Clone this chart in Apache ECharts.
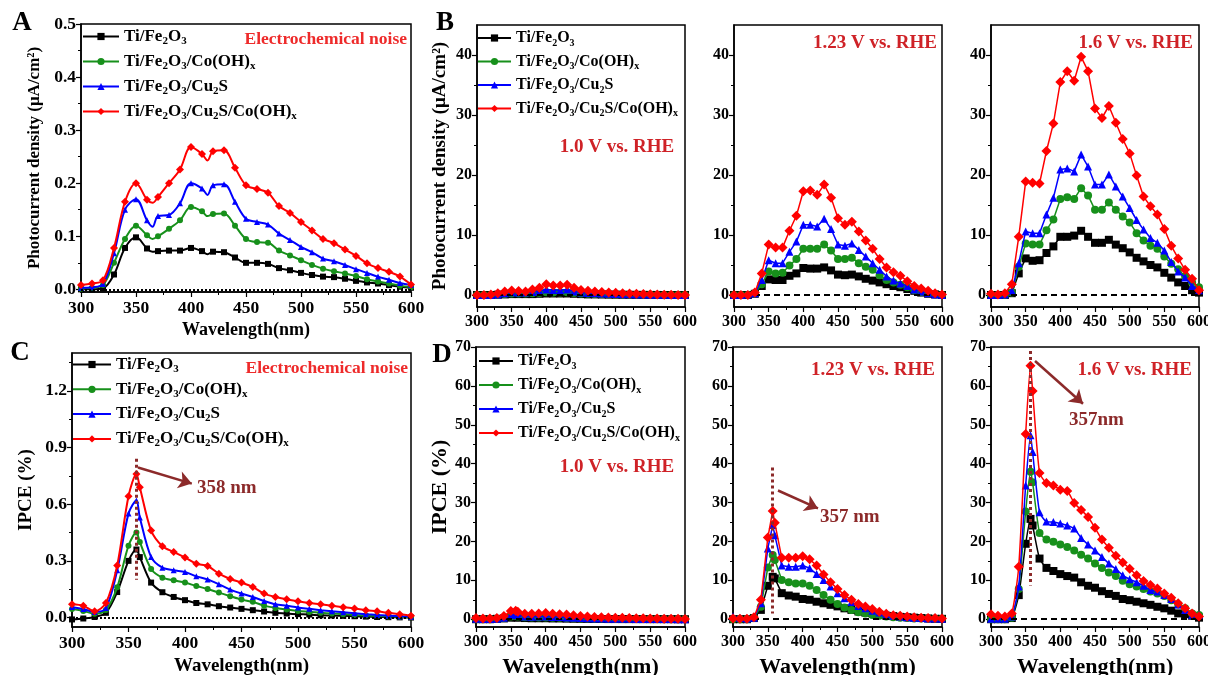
<!DOCTYPE html>
<html lang="en">
<head>
<meta charset="UTF-8">
<title>Photocurrent and IPCE spectra</title>
<script src="https://cdn.jsdelivr.net/npm/echarts@6/dist/echarts.min.js"></script>
<style>body{margin:0;background:#fff}</style>
</head>
<body>
<div id="main" style="width:1208px;height:675px;"></div>
<script type="text/javascript">
// sample names (legend order)
const names = ['Ti/Fe2O3', 'Ti/Fe2O3/Co(OH)x', 'Ti/Fe2O3/Cu2S', 'Ti/Fe2O3/Cu2S/Co(OH)x'];

// wavelengths (nm)
const wl = [300,310,320,330,340,350,360,370,380,390,400,410,420,430,440,450,460,470,480,490,500,510,520,530,540,550,560,570,580,590,600];
const wlA = [300,310,320,330,340,350,360,365,370,380,390,400,410,415,420,430,440,450,460,470,480,490,500,510,520,530,540,550,560,570,580,590,600];
const wlPeak = [300,310,320,330,340,350,357,360,370,380,390,400,410,420,430,440,450,460,470,480,490,500,510,520,530,540,550,560,570,580,590,600];

// A: electrochemical noise photocurrent (uA/cm2)
const A_fe = [0,0,0.002,0.028,0.078,0.098,0.077,0.071,0.072,0.073,0.073,0.078,0.072,0.066,0.071,0.070,0.060,0.050,0.050,0.048,0.040,0.036,0.031,0.027,0.024,0.023,0.020,0.016,0.013,0.011,0.008,0.005,0.003];
const A_co = [0.001,0.003,0.008,0.050,0.095,0.120,0.102,0.095,0.100,0.114,0.130,0.155,0.147,0.138,0.142,0.143,0.120,0.095,0.089,0.088,0.073,0.064,0.055,0.046,0.039,0.034,0.030,0.025,0.019,0.015,0.011,0.007,0.004];
const A_cu = [0.003,0.004,0.010,0.068,0.150,0.170,0.130,0.118,0.138,0.140,0.162,0.200,0.190,0.178,0.196,0.198,0.165,0.133,0.127,0.122,0.105,0.093,0.080,0.070,0.058,0.053,0.046,0.038,0.031,0.024,0.018,0.012,0.008];
const A_all = [0.008,0.011,0.017,0.078,0.165,0.200,0.169,0.163,0.174,0.200,0.226,0.268,0.255,0.243,0.260,0.262,0.229,0.196,0.189,0.182,0.157,0.144,0.127,0.111,0.095,0.087,0.075,0.063,0.049,0.040,0.033,0.024,0.009];

// B: photocurrent at 1.0 / 1.23 / 1.6 V vs RHE
const B1_fe = [0,0,0,0.05,0.1,0.15,0.15,0.15,0.15,0.2,0.25,0.25,0.25,0.25,0.2,0.15,0.1,0.1,0.08,0.06,0.05,0.04,0.03,0.02,0.02,0.01,0.01,0,0,0,0];
const B1_co = [0,0,0,0.05,0.15,0.25,0.25,0.25,0.3,0.35,0.45,0.4,0.4,0.45,0.35,0.25,0.2,0.18,0.15,0.12,0.1,0.08,0.06,0.05,0.04,0.03,0.02,0.01,0.01,0,0];
const B1_cu = [0,0,0.02,0.1,0.3,0.45,0.4,0.4,0.5,0.65,0.9,0.85,0.8,0.9,0.6,0.4,0.35,0.3,0.25,0.2,0.17,0.14,0.11,0.09,0.07,0.05,0.04,0.03,0.02,0.01,0];
const B1_all = [0,0,0.1,0.3,0.6,0.75,0.65,0.6,0.9,1.2,1.8,1.6,1.6,1.7,1.2,0.85,0.7,0.6,0.5,0.42,0.36,0.3,0.25,0.2,0.16,0.12,0.09,0.06,0.04,0.02,0];

const B2_fe = [0,0,0,0.2,1.5,2.6,2.5,2.5,3.2,3.6,4.5,4.4,4.4,4.6,4.1,3.4,3.3,3.4,3.1,2.7,2.4,2.1,1.8,1.5,1.3,1.0,0.7,0.4,0.2,0.1,0];
const B2_co = [0,0,0,0.3,1.8,3.9,3.6,3.7,4.9,6.0,7.7,7.7,7.7,8.4,7.4,6.0,6.0,6.2,5.3,4.7,4.2,3.3,2.5,2.1,1.7,1.3,0.8,0.5,0.3,0.1,0];
const B2_cu = [0,0,0.1,0.3,2.5,5.8,5.3,5.3,7.2,8.9,11.7,11.7,11.4,12.7,11.0,8.4,8.2,8.6,7.5,6.4,5.3,4.2,3.1,2.4,1.9,1.5,0.9,0.6,0.3,0.1,0];
const B2_all = [0,0,0,0.4,3.6,8.4,7.9,7.9,10.7,13.2,17.3,17.4,16.7,18.4,16.2,12.8,11.7,12.2,10.6,9.1,7.7,6.0,4.6,3.8,3.2,2.3,1.5,1.1,0.7,0.3,0.1];

const B3_fe = [0,0,0,0.3,3.6,6.1,5.7,5.8,7.0,8.1,9.7,9.7,9.9,10.7,9.7,8.7,8.7,9.2,8.4,7.8,7.1,6.2,5.6,5.0,4.6,3.7,2.9,2.1,1.5,0.8,0.4];
const B3_co = [0,0,0,0.4,4.7,8.6,8.4,8.4,10.8,12.6,16.0,16.3,16.0,17.8,16.6,14.2,14.2,15.4,14.2,13.1,12.1,10.3,9.1,8.2,7.7,6.4,5.2,4.3,3.1,2.1,1.3];
const B3_cu = [0,0,0.1,0.7,5.3,10.6,10.3,10.3,13.4,16.2,20.9,21.1,20.6,23.4,21.4,18.4,18.4,20.1,18.1,16.4,14.5,12.5,10.9,9.5,8.7,7.4,5.5,3.9,2.9,1.5,0.8];
const B3_all = [0.2,0.1,0.3,1.8,9.7,18.9,18.7,18.6,24.0,28.6,35.5,37.3,35.7,39.7,37.3,31.1,29.5,31.5,28.7,26.0,23.6,19.9,16.4,14.8,13.4,11.0,8.2,6.1,4.2,2.7,0.8];

// C: electrochemical noise IPCE (%)
const C_fe = [-0.01,-0.005,0.003,0.025,0.135,0.30,0.36,0.32,0.185,0.134,0.109,0.092,0.077,0.070,0.060,0.053,0.046,0.039,0.032,0.025,0.021,0.018,0.016,0.012,0.011,0.009,0.007,0.005,0.003,0.002,0.001,0];
const C_co = [0.045,0.035,0.020,0.040,0.160,0.380,0.450,0.400,0.257,0.211,0.197,0.185,0.167,0.151,0.132,0.113,0.095,0.083,0.063,0.051,0.042,0.035,0.030,0.025,0.021,0.018,0.014,0.011,0.009,0.006,0.004,0.002];
const C_cu = [0.056,0.045,0.030,0.050,0.250,0.550,0.620,0.530,0.320,0.264,0.250,0.241,0.218,0.202,0.176,0.148,0.127,0.109,0.088,0.070,0.062,0.053,0.046,0.039,0.033,0.028,0.023,0.018,0.014,0.009,0.007,0.004];
const C_all = [0.070,0.062,0.033,0.077,0.276,0.642,0.760,0.690,0.461,0.377,0.347,0.318,0.285,0.273,0.232,0.204,0.185,0.162,0.127,0.109,0.097,0.086,0.077,0.070,0.062,0.055,0.048,0.039,0.033,0.025,0.018,0.010];

// D: IPCE at 1.0 / 1.23 / 1.6 V vs RHE
const D1_fe = [0,0,0,0.1,0.2,0.4,0.5,0.4,0.3,0.25,0.25,0.25,0.2,0.2,0.15,0.12,0.1,0.08,0.06,0.05,0.04,0.04,0.03,0.03,0.02,0.02,0.01,0.01,0.01,0,0,0];
const D1_co = [0,0,0,0.1,0.3,0.7,0.8,0.7,0.5,0.45,0.45,0.45,0.4,0.35,0.3,0.25,0.2,0.17,0.14,0.12,0.1,0.08,0.07,0.06,0.05,0.04,0.03,0.03,0.02,0.02,0.01,0.01];
const D1_cu = [0.1,0.05,0.05,0.15,0.4,1.1,1.2,1.0,0.7,0.65,0.7,0.7,0.6,0.55,0.45,0.38,0.3,0.25,0.2,0.17,0.15,0.13,0.11,0.09,0.08,0.07,0.06,0.05,0.04,0.03,0.02,0.02];
const D1_all = [0.3,0.2,0.2,0.3,0.8,2.1,2.2,1.9,1.4,1.4,1.5,1.6,1.4,1.3,1.2,1.0,0.8,0.7,0.6,0.5,0.45,0.4,0.35,0.3,0.28,0.25,0.2,0.18,0.15,0.12,0.1,0.08];

const D2_fe = [0,0,0,0.3,2.4,8.6,10.9,10.5,6.7,6.1,5.8,5.2,5.0,4.5,4.1,3.7,3.3,2.8,2.4,2.0,1.7,1.5,1.2,0.9,0.8,0.6,0.5,0.4,0.3,0.2,0.1,0.1];
const D2_co = [0,0,0,0.4,3.2,13.3,16.5,15.2,10.1,9.5,9.2,9.2,8.6,7.5,6.2,5.0,3.9,3.0,2.4,1.8,1.5,1.1,0.9,0.7,0.5,0.4,0.3,0.2,0.2,0.1,0.1,0.1];
const D2_cu = [0.7,0.3,0.2,0.4,4.1,18.2,24.2,21.6,13.8,13.5,13.5,13.8,13.1,11.6,10.1,8.4,6.7,5.4,4.4,3.4,2.8,2.2,1.7,1.3,0.9,0.7,0.5,0.4,0.3,0.2,0.2,0.1];
const D2_all = [0.2,0.1,0.1,0.5,5.0,21.0,27.8,24.8,15.8,15.8,15.8,16.2,15.4,13.8,11.5,9.5,7.8,6.2,5.0,3.9,3.3,2.6,1.9,1.4,1.0,0.9,0.7,0.5,0.4,0.3,0.3,0.2];

const D3_fe = [0,0,0,0.3,6.2,19.4,25.8,24.1,15.6,13.2,12.4,11.6,11.1,10.7,9.5,8.6,8.1,7.2,6.5,6.0,5.2,4.9,4.5,4.1,3.7,3.2,2.8,2.2,1.5,1.3,0.9,0.4];
const D3_co = [0,0,0,0.4,7.8,27.7,37.9,35.2,22.2,20.5,19.9,19.2,18.6,17.7,16.6,15.6,14.3,13.2,12.0,11.1,9.9,9.0,8.4,7.8,7.1,6.6,6.0,4.9,3.8,2.8,1.5,1.1];
const D3_cu = [0.1,0.1,0.1,0.7,8.4,34.4,47.3,43.0,27.5,25.1,25.0,24.6,24.1,23.3,20.9,19.2,17.7,16.0,14.3,12.9,11.3,10.3,9.5,8.6,7.5,7.1,6.2,5.2,3.8,2.4,1.1,1.1];
const D3_all = [1.3,0.9,0.7,1.5,13.5,47.6,65.2,58.7,37.6,35.0,34.4,33.3,33.0,29.9,28.1,26.3,23.5,20.5,18.4,16.3,14.6,13.0,11.3,9.8,8.8,7.9,6.6,5.5,4.1,2.8,1.5,0.7];

// tick labels (major) and minor tick positions
const yTicksA = [0,0.1,0.2,0.3,0.4,0.5];
const yMinorA = [0.05,0.15,0.25,0.35,0.45];
const yTicksB = [0,10,20,30,40];
const yMinorB = [5,15,25,35];
const yTicksC = [0,0.3,0.6,0.9,1.2];
const yMinorC = [0.15,0.45,0.75,1.05,1.35];
const yTicksD = [0,10,20,30,40,50,60,70];
const yMinorD = [5,15,25,35,45,55,65];

const colors = ['#000000', '#17901b', '#0000ff', '#ff0000'];
const symbols = ['rect', 'circle', 'triangle', 'diamond'];
const FONT = 'Liberation Serif';
const peakColor = '#8c2a2a';

const panels = [
  { grid: {left: 81, top: 24, width: 330, height: 268}, x: wlA, ys: [A_fe, A_co, A_cu, A_all],
    ymin: -0.005, ymax: 0.5, yticks: yTicksA, yminor: yMinorA, dec: 1, smooth: 0.35, size: 6, lw: 2, zero: 'dotted',
    lab: 17.5, xname: 'Wavelength(nm)', xnameSize: 18, xgap: 29, yname: 'Photocurrent density (\u03bcA/cm\u00b2)', ynameSize: 17, ygap: 38 },
  { grid: {left: 477, top: 25, width: 208, height: 282}, x: wl, ys: [B1_fe, B1_co, B1_cu, B1_all],
    ymin: -2, ymax: 45, yticks: yTicksB, yminor: yMinorB, dec: 0, smooth: false, size: 8, lw: 1.5, zero: 'dashed',
    lab: 16, yname: 'Photocurrent density (\u03bcA/cm\u00b2)', ynameSize: 19, ygap: 27 },
  { grid: {left: 734, top: 25, width: 208, height: 282}, x: wl, ys: [B2_fe, B2_co, B2_cu, B2_all],
    ymin: -2, ymax: 45, yticks: yTicksB, yminor: yMinorB, dec: 0, smooth: false, size: 8, lw: 1.5, zero: 'dashed', lab: 16 },
  { grid: {left: 991, top: 25, width: 208, height: 282}, x: wl, ys: [B3_fe, B3_co, B3_cu, B3_all],
    ymin: -2, ymax: 45, yticks: yTicksB, yminor: yMinorB, dec: 0, smooth: false, size: 8, lw: 1.5, zero: 'dashed', lab: 16 },
  { grid: {left: 72, top: 353, width: 339, height: 274}, x: wlPeak, ys: [C_fe, C_co, C_cu, C_all],
    ymin: -0.05, ymax: 1.4, yticks: yTicksC, yminor: yMinorC, dec: 1, smooth: 0.3, size: 6, lw: 2, zero: 'dotted',
    lab: 17.5, xname: 'Wavelength(nm)', xnameSize: 19, xgap: 30, yname: 'IPCE (%)', ynameSize: 19, ygap: 36,
    peak: {x: 357, y0: 0.84, y1: 0.2, a0: [358.4, 0.794], a1: [406, 0.709]} },
  { grid: {left: 476, top: 347, width: 209, height: 280}, x: wlPeak, ys: [D1_fe, D1_co, D1_cu, D1_all],
    ymin: -2, ymax: 70, yticks: yTicksD, yminor: yMinorD, dec: 0, smooth: false, size: 8, lw: 1.5, zero: 'dashed',
    lab: 16, xname: 'Wavelength(nm)', xnameSize: 22, xgap: 29, yname: 'IPCE (%)', ynameSize: 22, ygap: 24 },
  { grid: {left: 733, top: 347, width: 209, height: 280}, x: wlPeak, ys: [D2_fe, D2_co, D2_cu, D2_all],
    ymin: -2, ymax: 70, yticks: yTicksD, yminor: yMinorD, dec: 0, smooth: false, size: 8, lw: 1.5, zero: 'dashed',
    lab: 16, xname: 'Wavelength(nm)', xnameSize: 22, xgap: 29,
    peak: {x: 357, y0: 39, y1: 1.5, a0: [364.6, 33.1], a1: [422, 28.5]} },
  { grid: {left: 991, top: 347, width: 208, height: 280}, x: wlPeak, ys: [D3_fe, D3_co, D3_cu, D3_all],
    ymin: -2, ymax: 70, yticks: yTicksD, yminor: yMinorD, dec: 0, smooth: 0.2, size: 8, lw: 1.5, zero: 'dashed',
    lab: 16, xname: 'Wavelength(nm)', xnameSize: 22, xgap: 29,
    peak: {x: 357, y0: 69, y1: 8.7, a0: [363.5, 66.4], a1: [432.7, 55.4]} }
];

// Ti/Fe2O3 -> rich text with subscripts
function richName(n) {
  return n.split(/(\d|x$)/).filter(Boolean)
    .map(t => /^(\d|x)$/.test(t) ? '{s|' + t + '}' : '{a|' + t + '}').join('');
}
function legendRich(size) {
  return {
    a: {fontFamily: FONT, fontWeight: 'bold', fontSize: size, color: '#000', lineHeight: 20},
    s: {fontFamily: FONT, fontWeight: 'bold', fontSize: Math.round(size * 0.65), color: '#000', lineHeight: 10, verticalAlign: 'bottom'}
  };
}

const axisBlack = {color: '#000', width: 1.5};
const grids = [], xAxes = [], yAxes = [], series = [];
panels.forEach((p, i) => {
  grids.push(Object.assign({show: true, borderColor: '#000', borderWidth: 1.5, backgroundColor: 'transparent',
    containLabel: false, outerBoundsMode: 'none'}, p.grid));
  xAxes.push({
    type: 'value', gridIndex: i, min: 300, max: 600, interval: 50,
    name: p.xname || '', nameLocation: 'middle', nameGap: p.xgap || 0,
    nameTextStyle: {fontFamily: FONT, fontWeight: 'bold', fontSize: p.xnameSize || 12, color: '#000'},
    axisLine: {show: true, onZero: false, lineStyle: axisBlack},
    axisTick: {show: true, length: 5, lineStyle: {color: '#000', width: 1.2}},
    minorTick: {show: true, splitNumber: 2, length: 3, lineStyle: {color: '#000', width: 1}},
    axisLabel: {fontFamily: FONT, fontWeight: 'bold', fontSize: p.lab, color: '#000', margin: 7},
    splitLine: {show: false}
  });
  // main y axis (labels, major ticks)
  yAxes.push({
    type: 'value', gridIndex: i, min: p.ymin, max: p.ymax,
    name: p.yname || '', nameLocation: 'middle', nameGap: p.ygap || 0,
    nameTextStyle: {fontFamily: FONT, fontWeight: 'bold', fontSize: p.ynameSize || 12, color: '#000'},
    axisLine: {show: true, onZero: false, lineStyle: axisBlack},
    axisTick: {show: true, length: 5, customValues: p.yticks, lineStyle: {color: '#000', width: 1.2}},
    axisLabel: {customValues: p.yticks, formatter: v => Number(v).toFixed(p.dec),
      fontFamily: FONT, fontWeight: 'bold', fontSize: p.lab, color: '#000', margin: 5},
    splitLine: {show: false}
  });
  // twin y axis only for the short minor ticks
  yAxes.push({
    type: 'value', gridIndex: i, min: p.ymin, max: p.ymax, position: 'left',
    axisLine: {show: false}, axisLabel: {show: false}, splitLine: {show: false},
    axisTick: {show: true, length: 3, customValues: p.yminor, lineStyle: {color: '#000', width: 1}}
  });
  p.ys.forEach((vals, k) => {
    const s = {
      type: 'line', name: names[k], xAxisIndex: i, yAxisIndex: 2 * i,
      // off-grid helper points (e.g. 365, 415 nm) are drawn without markers
      data: p.x.map((w, j) => (w % 10 === 5 ? {value: [w, vals[j]], symbol: 'none'} : [w, vals[j]])),
      smooth: p.smooth, showAllSymbol: true,
      symbol: symbols[k],
      symbolSize: k === 3 ? p.size + 2 : p.size,
      lineStyle: {color: colors[k], width: p.lw},
      itemStyle: {color: colors[k]},
      z: 2 + k, animation: false
    };
    if (k === 0) {
      s.markLine = {silent: true, symbol: 'none', label: {show: false}, animation: false,
        lineStyle: {color: '#000', width: 2, type: p.zero === 'dotted' ? [2, 2] : [6, 4]},
        data: [{yAxis: 0}]};
    }
    if (k === 3 && p.peak) {
      const pk = p.peak;
      s.markLine = {silent: true, symbol: 'none', label: {show: false}, animation: false, z: 10,
        data: [
          [{coord: [pk.x, pk.y0], lineStyle: {color: peakColor, width: 3, type: [3, 3]}},
           {coord: [pk.x, pk.y1], lineStyle: {color: peakColor, width: 3, type: [3, 3]}}],
          [{coord: pk.a0, symbol: 'none', lineStyle: {color: peakColor, width: 2.5, type: 'solid'}},
           {coord: pk.a1, symbol: 'arrow', symbolSize: 13, lineStyle: {color: peakColor, width: 2.5, type: 'solid'}}]
        ]};
    }
    series.push(s);
  });
});

function legendAt(left, top, size, iw, gap) {
  return {orient: 'vertical', left: left, top: top, itemWidth: iw, itemHeight: 9, itemGap: gap,
    padding: 0, data: names, formatter: richName, selectedMode: false,
    textStyle: {rich: legendRich(size)}};
}

function txt(x, y, text, font, color, align) {
  return {type: 'text', x: x, y: y, z: 100, silent: true,
    style: {text: text, font: font, fill: color, textAlign: align || 'left', textVerticalAlign: 'middle', verticalAlign: 'middle'}};
}
const letterFont = 'bold 27px "Liberation Serif"';
const annFont = 'bold 19px "Liberation Serif"';
const redA = '#ee2a2a', redV = '#cf2227';

const options = {
  backgroundColor: '#fff',
  animation: false,
  grid: grids, xAxis: xAxes, yAxis: yAxes, series: series,
  legend: [
    legendAt(82, 28, 17, 36, 6.5),
    legendAt(477, 30, 16, 33, 5.5),
    legendAt(72, 356, 17, 38, 6.3),
    legendAt(478, 353, 16, 34, 6)
  ],
  graphic: [
    txt(22, 23, 'A', letterFont, '#000', 'center'),
    txt(445, 23, 'B', letterFont, '#000', 'center'),
    txt(20, 353, 'C', letterFont, '#000', 'center'),
    txt(442, 355, 'D', letterFont, '#000', 'center'),
    txt(407, 39, 'Electrochemical noise', 'bold 17.5px "Liberation Serif"', redA, 'right'),
    txt(408, 368, 'Electrochemical noise', 'bold 17.5px "Liberation Serif"', redA, 'right'),
    txt(617, 147, '1.0 V vs. RHE', annFont, redV, 'center'),
    txt(937, 43, '1.23 V vs. RHE', annFont, redV, 'right'),
    txt(1193, 43, '1.6 V vs. RHE', annFont, redV, 'right'),
    txt(617, 467, '1.0 V vs. RHE', annFont, redV, 'center'),
    txt(935, 370, '1.23 V vs. RHE', annFont, redV, 'right'),
    txt(1192, 370, '1.6 V vs. RHE', annFont, redV, 'right'),
    txt(197, 488, '358 nm', annFont, peakColor, 'left'),
    txt(820, 517, '357 nm', annFont, peakColor, 'left'),
    txt(1069, 420, '357nm', annFont, peakColor, 'left')
  ]
};

let myChart = echarts.init(document.getElementById('main'));
myChart.setOption(options);
</script>
</body>
</html>
